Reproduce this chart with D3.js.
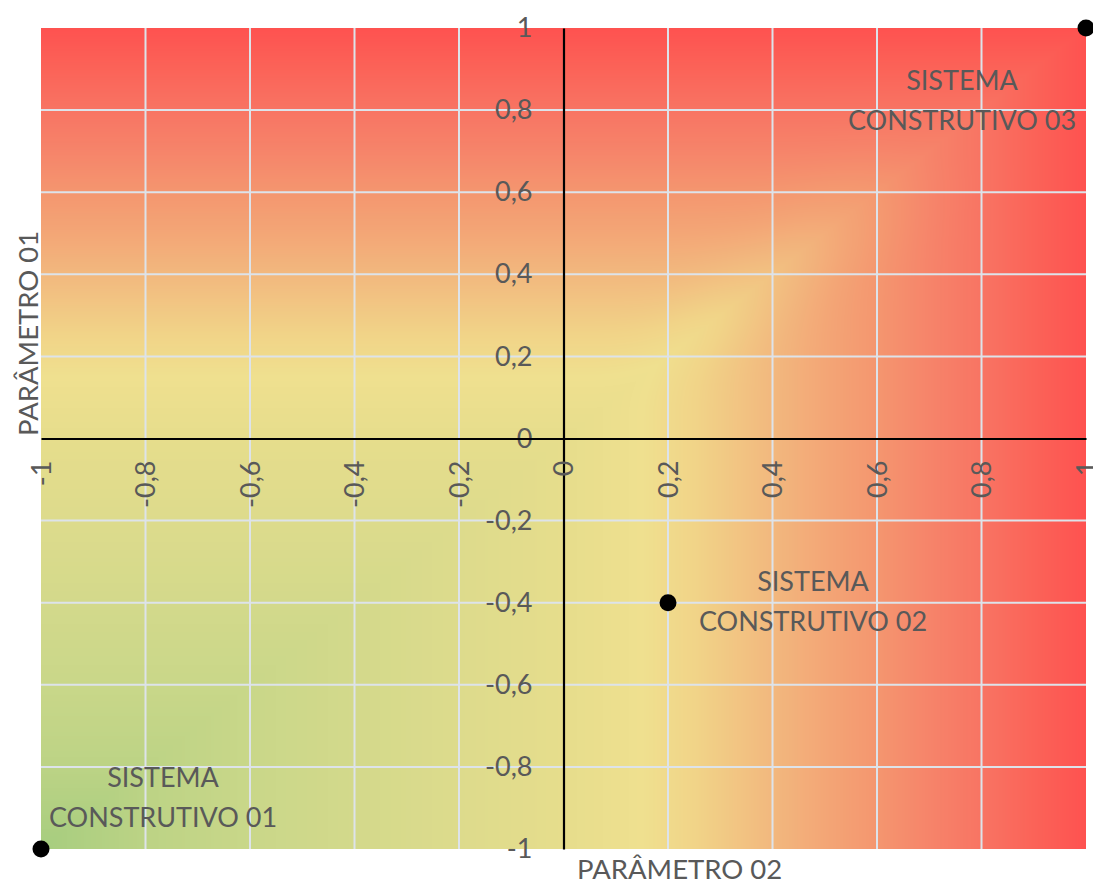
<!DOCTYPE html>
<html>
<head>
<meta charset="utf-8">
<script src="https://cdn.jsdelivr.net/npm/d3@7"></script>
<style>
  html, body { margin: 0; padding: 0; background: #ffffff; }
  svg { display: block; }
  text { font-family: Lato, "Open Sans", sans-serif; fill: #595959; }
</style>
</head>
<body>
<svg id="chart" width="1093" height="884"></svg>
<script>
// ---- data ----
const systemNames = ["SISTEMA\nCONSTRUTIVO 01", "SISTEMA\nCONSTRUTIVO 02", "SISTEMA\nCONSTRUTIVO 03"];
const param02Values = [-1, 0.2, 1];     // horizontal axis
const param01Values = [-1, -0.4, 1];    // vertical axis
const tickValues = [-1, -0.8, -0.6, -0.4, -0.2, 0, 0.2, 0.4, 0.6, 0.8, 1];
const gridValues = [-0.8, -0.6, -0.4, -0.2, 0.2, 0.4, 0.6, 0.8];
const xTitle = "PARÂMETRO 02";
const yTitle = "PARÂMETRO 01";
// background colour ramp (score = max(param02, param01))
const rampStops = [-1, -0.8, -0.6, -0.4, -0.2, 0, 0.15, 0.25, 0.4, 0.5, 0.6, 0.7, 0.8, 0.9, 1];
const rampColors = ["#a6cd7f", "#bcd385", "#c9d789", "#d3d98b", "#dddb8c", "#e6dd8c", "#efe08f",
                    "#f1d488", "#f2b87e", "#f3a676", "#f4966f", "#f6846a", "#f87463", "#fb6358", "#fe5250"];

// ---- layout ----
const x = d3.scaleLinear().domain([-1, 1]).range([41, 1086]);
const y = d3.scaleLinear().domain([-1, 1]).range([849, 28]);
const fmt = d3.formatLocale({decimal: ",", thousands: ".", grouping: [3], currency: ["", ""], minus: "-"}).format("~g");
const labelOffsets = [[122, -62], [145, -12], [-124, 62]]; // label layout relative to point
const lineGap = 40;

const svg = d3.select("#chart");

// ---- gradient background (canvas -> image) ----
const color = d3.scaleLinear().domain(rampStops).range(rampColors).interpolate(d3.interpolateRgb).clamp(true);
const lut = d3.range(1001).map(i => d3.rgb(color(-1 + 2 * i / 1000)));
const px0 = Math.round(x(-1)), px1 = Math.round(x(1)), py0 = Math.round(y(1)), py1 = Math.round(y(-1));
const cw = px1 - px0, ch = py1 - py0;
const canvas = document.createElement("canvas");
canvas.width = cw; canvas.height = ch;
const ctx = canvas.getContext("2d");
const img = ctx.createImageData(cw, ch);
function smooth(a, b, t) { const u = Math.max(0, Math.min(1, (t - a) / (b - a))); return u * u * (3 - 2 * u); }
for (let j = 0; j < ch; j++) {
  const vy = y.invert(py0 + j + 0.5);
  for (let i = 0; i < cw; i++) {
    const vx = x.invert(px0 + i + 0.5);
    let v = Math.max(vx, vy);
    const m = Math.min(vx, vy);
    const ridge = 0.05 * Math.exp(-Math.pow((vx - vy) / 0.14, 2)) * smooth(0.05, 0.3, m) * (1 - smooth(0.4, 0.7, m));
    v -= ridge;
    const k = Math.max(0, Math.min(1000, Math.round((v + 1) * 500)));
    const c = lut[k];
    const o = (j * cw + i) * 4;
    img.data[o] = c.r; img.data[o + 1] = c.g; img.data[o + 2] = c.b; img.data[o + 3] = 255;
  }
}
ctx.putImageData(img, 0, 0);
svg.append("image")
  .attr("x", px0).attr("y", py0).attr("width", cw).attr("height", ch)
  .attr("preserveAspectRatio", "none")
  .attr("href", canvas.toDataURL());

// ---- grid ----
const grid = svg.append("g").attr("stroke", "#dde3ea").attr("stroke-width", 2);
grid.selectAll("line.v").data(gridValues).join("line").attr("class", "v")
  .attr("x1", d => x(d)).attr("x2", d => x(d)).attr("y1", y(1)).attr("y2", y(-1));
grid.selectAll("line.h").data(gridValues).join("line").attr("class", "h")
  .attr("y1", d => y(d)).attr("y2", d => y(d)).attr("x1", x(-1)).attr("x2", x(1));

// ---- axes ----
const fs = 27;
const yAxis = svg.append("g").attr("transform", `translate(${x(0)},0)`)
  .call(d3.axisLeft(y).tickValues(tickValues).tickFormat(fmt).tickSize(0).tickSizeOuter(0).tickPadding(31));
const xAxis = svg.append("g").attr("transform", `translate(0,${y(0)})`)
  .call(d3.axisBottom(x).tickValues(tickValues).tickFormat(fmt).tickSize(0).tickSizeOuter(0).tickPadding(0));
[xAxis, yAxis].forEach(a => {
  a.select(".domain").attr("stroke", "#000").attr("stroke-width", 2.2);
  a.selectAll("text").attr("font-size", fs).attr("font-family", "Lato, sans-serif").attr("fill", "#595959");
});
yAxis.selectAll(".tick text").attr("dy", "0.32em");
xAxis.selectAll(".tick text")
  .attr("transform", "rotate(-90)")
  .attr("text-anchor", "end")
  .attr("x", -22).attr("y", 0).attr("dy", "0.35em");

// axis titles
svg.append("text").attr("x", 577).attr("y", 879).attr("font-size", 27.5).text(xTitle);
svg.append("text").attr("transform", `translate(38,436) rotate(-90)`).attr("font-size", 27.5).text(yTitle);

// ---- points ----
const pts = systemNames.map((n, i) => ({name: n, px: param02Values[i], py: param01Values[i], off: labelOffsets[i]}));
svg.append("g").selectAll("circle").data(pts).join("circle")
  .attr("cx", d => x(d.px)).attr("cy", d => y(d.py)).attr("r", 8.5).attr("fill", "#000");

const lbl = svg.append("g").selectAll("text").data(pts).join("text")
  .attr("text-anchor", "middle").attr("font-size", fs)
  .attr("x", d => x(d.px) + d.off[0]).attr("y", d => y(d.py) + d.off[1]);
lbl.selectAll("tspan").data(d => d.name.split("\n").map(s => ({s, d}))).join("tspan")
  .attr("x", t => x(t.d.px) + t.d.off[0])
  .attr("dy", (t, i) => i === 0 ? 0 : lineGap)
  .text(t => t.s);
</script>
</body>
</html>
